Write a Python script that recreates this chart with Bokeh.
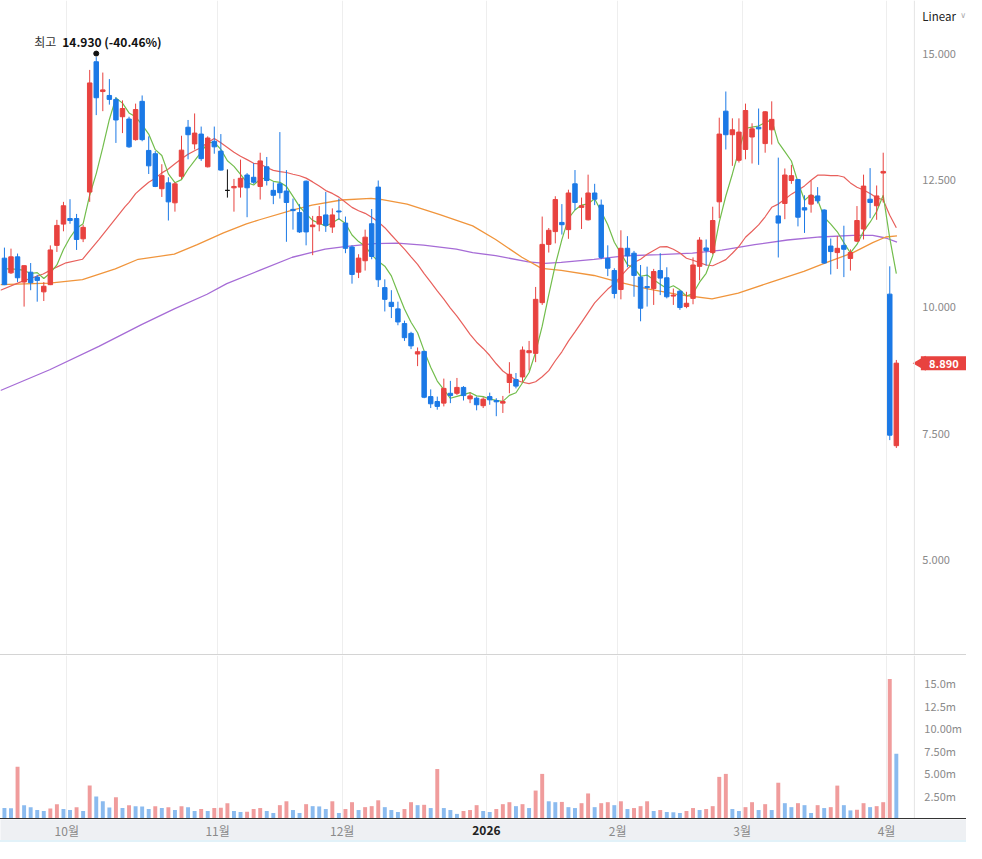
import math
from bokeh.plotting import figure
from bokeh.models import Range1d, FixedTicker, Label, Div, Grid, Span
from bokeh.layouts import column
from bokeh.core.properties import value
from bokeh.embed import file_html
from bokeh.resources import INLINE

# ---------------- data ----------------
open_ = [10.962, 10.672, 10.988, 10.491, 10.685, 10.588, 10.297, 10.439, 11.214, 11.634,
         11.744, 11.744, 11.344, 12.267, 14.838, 14.25, 14.173, 14.095, 13.753, 13.708,
         13.301, 14.057, 13.088, 13.023, 12.332, 12.448, 12.054, 12.577, 13.546, 13.217,
         13.411, 12.765, 13.269, 13.075, 12.30, 12.35, 12.364, 12.603, 12.558, 12.377,
         12.765, 12.30, 12.429, 12.287, 11.925, 11.861, 12.481, 11.583, 11.634, 11.815,
         11.576, 11.893, 11.654, 11.182, 10.685, 10.911, 11.641, 12.364, 10.381, 10.091,
         9.961, 9.671, 9.477, 9.07, 9.122, 8.23, 8.133, 8.101, 8.295, 8.295,
         8.411, 8.185, 8.198, 8.05, 8.23, 8.153, 8.101, 8.508, 8.566, 8.618,
         9.096, 9.083, 10.084, 11.234, 11.486, 11.667, 11.525, 12.429, 11.964, 11.719,
         12.248, 12.009, 10.956, 10.718, 10.343, 11.157, 11.06, 10.588, 10.401, 10.362,
         10.718, 10.575, 10.214, 10.31, 10.007, 10.168, 10.801, 11.163, 11.072, 12.074,
         13.863, 13.398, 12.894, 13.107, 13.353, 13.546, 13.223, 13.495, 11.796, 12.041,
         12.494, 12.513, 11.957, 12.028, 12.19, 11.912, 11.201, 11.072, 11.214, 10.956,
         11.298, 11.537, 12.125, 11.996, 12.642, 10.252, 7.261]
high = [11.17, 11.15, 11.053, 10.82, 10.866, 10.633, 10.49, 11.214, 11.718, 12.073,
        12.125, 11.835, 11.621, 14.677, 14.93, 14.625, 14.496, 14.141, 14.076, 13.753,
        14.012, 14.173, 13.366, 13.075, 12.816, 12.558, 12.461, 13.378, 13.689, 13.818,
        13.559, 13.366, 13.559, 13.411, 12.713, 12.526, 12.907, 12.64, 12.836, 13.043,
        12.959, 12.461, 13.45, 12.70, 12.138, 12.028, 12.494, 11.796, 11.99, 12.268,
        11.944, 12.138, 11.783, 11.215, 11.04, 11.525, 11.932, 12.494, 10.543, 10.33,
        10.103, 9.729, 9.509, 9.199, 9.135, 8.372, 8.23, 8.585, 8.54, 8.598,
        8.437, 8.308, 8.23, 8.217, 8.308, 8.198, 8.243, 8.909, 8.695, 9.219,
        9.328, 10.394, 11.783, 11.557, 12.184, 12.029, 12.313, 12.701, 12.158, 12.61,
        12.429, 12.119, 11.215, 10.763, 11.512, 11.396, 11.105, 10.827, 10.795, 10.75,
        11.06, 10.782, 10.362, 10.33, 10.298, 10.976, 11.376, 11.331, 11.977, 13.734,
        14.251, 13.721, 13.721, 14.012, 13.624, 13.915, 13.863, 14.057, 12.946, 12.732,
        12.803, 12.526, 12.203, 12.494, 12.364, 11.925, 11.35, 11.395, 11.602, 11.137,
        11.99, 12.61, 12.739, 12.396, 13.043, 10.801, 8.953]
low = [10.43, 10.65, 10.49, 10.006, 10.329, 10.103, 10.116, 10.43, 11.085, 11.492,
       11.641, 11.124, 11.279, 12.073, 13.785, 13.863, 13.992, 13.236, 13.43, 13.139,
       13.281, 13.269, 12.623, 12.364, 12.17, 11.705, 11.88, 12.526, 12.913, 13.107,
       12.881, 12.752, 13.023, 12.69, 12.157, 11.88, 12.157, 11.77, 12.43, 12.119,
       12.397, 12.028, 12.138, 11.285, 11.525, 11.46, 11.215, 11.021, 11.492, 11.48,
       11.46, 11.718, 11.06, 10.459, 10.569, 10.717, 10.94, 10.394, 9.91, 9.78,
       9.638, 9.328, 9.167, 8.831, 8.198, 8.004, 7.972, 8.036, 8.101, 8.262,
       8.153, 8.101, 7.959, 8.004, 8.069, 7.843, 7.907, 8.295, 8.392, 8.521,
       8.747, 8.909, 10.039, 11.073, 11.254, 11.428, 11.344, 11.912, 11.538, 11.706,
       12.009, 10.943, 10.608, 10.168, 10.149, 10.782, 10.2, 9.716, 10.007, 10.039,
       10.233, 10.168, 10.039, 9.942, 9.974, 10.052, 10.524, 10.814, 11.04, 11.751,
       13.107, 12.784, 12.849, 12.913, 12.83, 12.803, 13.043, 13.204, 10.975, 11.731,
       12.429, 11.589, 11.46, 11.86, 12.041, 10.846, 10.64, 10.749, 10.588, 10.717,
       11.279, 11.331, 11.751, 11.719, 12.061, 7.371, 7.216]
close = [10.439, 10.988, 10.575, 10.814, 10.478, 10.523, 10.407, 11.124, 11.608, 11.996,
         11.705, 11.331, 11.57, 14.42, 14.128, 14.283, 14.095, 13.689, 13.915, 13.159,
         13.895, 13.301, 12.784, 12.377, 12.59, 12.073, 12.429, 13.094, 13.398, 13.43,
         12.926, 13.333, 13.159, 12.70, 12.30, 12.377, 12.539, 12.351, 12.461, 12.881,
         12.494, 12.203, 12.255, 12.061, 11.90, 11.48, 11.48, 11.615, 11.783, 11.609,
         11.815, 11.874, 11.156, 10.64, 10.963, 11.376, 10.995, 10.536, 10.149, 10.007,
         9.703, 9.393, 9.231, 9.115, 8.217, 8.088, 8.036, 8.392, 8.25, 8.411,
         8.25, 8.243, 8.069, 8.179, 8.166, 8.127, 8.133, 8.67, 8.437, 9.148,
         9.135, 10.149, 11.234, 11.512, 12.119, 11.622, 12.248, 12.061, 11.996, 12.248,
         12.126, 10.976, 10.763, 10.265, 11.157, 11.008, 10.621, 9.974, 10.381, 10.698,
         10.569, 10.20, 10.233, 9.987, 10.072, 10.827, 11.318, 11.11, 11.705, 13.411,
         13.398, 13.495, 13.45, 13.876, 13.514, 13.514, 13.85, 13.701, 11.654, 12.603,
         12.59, 11.77, 11.912, 12.203, 12.093, 10.866, 11.092, 11.156, 11.137, 11.072,
         11.705, 12.384, 12.061, 12.19, 12.674, 7.468, 8.89]
volume_m = [1.16, 1.15, 5.74, 1.48, 1.26, 0.94, 0.83, 1.12, 1.59, 1.05,
            0.94, 1.26, 0.83, 3.65, 2.45, 1.91, 1.23, 2.35, 1.16, 1.48,
            1.37, 1.34, 1.05, 1.37, 1.16, 1.26, 0.94, 1.37, 1.26, 0.83,
            1.05, 0.83, 1.16, 1.19, 1.70, 0.83, 0.72, 0.76, 1.05, 1.16,
            0.83, 0.61, 1.48, 1.91, 0.94, 0.61, 1.59, 1.37, 1.34, 1.05,
            1.91, 0.61, 1.05, 1.81, 0.94, 1.26, 1.37, 2.02, 1.26, 0.94,
            0.72, 1.05, 1.81, 1.48, 1.52, 1.16, 5.49, 1.16, 0.94, 0.51,
            0.83, 0.94, 1.48, 0.83, 0.72, 1.05, 1.59, 1.81, 1.37, 1.59,
            1.16, 3.10, 4.95, 1.91, 1.81, 1.84, 1.26, 1.16, 1.70, 2.78,
            1.26, 1.70, 1.81, 1.48, 1.91, 1.05, 1.16, 1.37, 1.91, 0.83,
            0.94, 0.72, 0.69, 0.61, 0.83, 1.16, 0.94, 1.05, 1.37, 4.62,
            4.95, 1.05, 0.83, 1.26, 1.81, 0.94, 1.59, 0.94, 3.97, 1.70,
            1.26, 1.70, 1.48, 0.61, 1.48, 1.16, 1.26, 3.65, 1.48, 0.90,
            0.97, 1.70, 1.26, 1.37, 1.81, 15.49, 7.18]

# moving-average lines: first points, rest computed from closes
ma5_head_x = [0, 1, 2, 3]
ma5_head = [10.75, 10.75, 10.74, 10.72]
ma20_head_x = [-0.6, 2.4, 5.9, 7.4, 9.4, 11.9, 14.4, 18.4]
ma20_head = [10.33, 10.49, 10.65, 10.75, 10.87, 10.94, 11.33, 11.98]
ma60_x = [-0.6, 6.9, 11.9, 16.9, 20.4, 25.9, 29.4, 33.4, 36.9, 38.9, 43.9, 46.9, 51.4, 55.9,
          57.4, 61.4, 66.4, 71.4, 74.9, 78.9, 81.9, 84.9, 89.9, 93.4, 97.9, 102.4, 107.9,
          111.9, 116.9, 121.9, 125.4, 129.4, 132.4, 134.4, 136.1]
ma60 = [10.44, 10.47, 10.54, 10.75, 10.94, 11.04, 11.23, 11.46, 11.64, 11.72, 11.91, 12.01,
        12.11, 12.14, 12.12, 12.03, 11.82, 11.60, 11.33, 10.98, 10.76, 10.72, 10.62, 10.50,
        10.36, 10.25, 10.16, 10.27, 10.49, 10.70, 10.88, 11.07, 11.27, 11.38, 11.40]
ma120_x = [-0.6, 6.9, 14.4, 20.9, 25.9, 30.9, 33.9, 38.9, 43.9, 48.9, 51.9, 56.4, 59.9, 63.9,
           68.9, 71.4, 74.9, 79.9, 82.4, 84.9, 89.9, 94.9, 99.9, 104.9, 109.4, 114.4, 119.4,
           124.4, 129.4, 132.4, 134.4, 136.1]
ma120 = [8.35, 8.76, 9.22, 9.65, 9.96, 10.25, 10.46, 10.72, 10.98, 11.14, 11.19, 11.25, 11.26,
         11.22, 11.14, 11.07, 11.01, 10.89, 10.86, 10.88, 10.94, 11.01, 11.03, 11.06, 11.12,
         11.23, 11.32, 11.38, 11.41, 11.41, 11.36, 11.28]

month_ticks = [9.5, 32.5, 51.5, 73.5, 93.5, 112.5, 134.5]
month_labels = ["10월", "11월", "12월", "2026", "2월", "3월", "4월"]
price_ticks = [5.0, 7.5, 10.0, 12.5, 15.0]
price_tick_labels = ["5.000", "7.500", "10.000", "12.500", "15.000"]
vol_ticks = [2.5, 5.0, 7.5, 10.0, 12.5, 15.0]
vol_tick_labels = ["2.50m", "5.00m", "7.50m", "10.00m", "12.5m", "15.0m"]

# ---------------- layout / styling ----------------
RED, BLUE = "#e8423f", "#1b79e6"
VRED, VBLUE = "#f09c9c", "#8bbbef"
FONT = "Noto Sans CJK KR"
W = 966                 # full frame width (plot area + price scale column)
X_MIN, X_END = -0.6, 138.75          # visible candle area
X_MAX = X_MIN + (X_END - X_MIN) * 982 / 929   # include the scale column
PX = (X_MAX - X_MIN) / W             # data units per pixel

N = len(close)
xs = list(range(N))


def sma(vals, n):
    return [sum(vals[i - n + 1:i + 1]) / n for i in range(n - 1, len(vals))]


ma5_x = ma5_head_x + list(range(4, N))
ma5_y = ma5_head + sma(close, 5)
ma20_x = ma20_head_x + list(range(19, N))
ma20_y = ma20_head + sma(close, 20)

ccol = [RED if c > o else (BLUE if c < o else "#111111") for o, c in zip(open_, close)]
vcol = [VBLUE] + [VRED if volume_m[i] > volume_m[i - 1] else VBLUE for i in range(1, N)]

x_range = Range1d(X_MIN, X_MAX)

common = dict(output_backend="svg", toolbar_location=None, frame_width=W,
              min_border_left=0, min_border_right=0, min_border_top=0, min_border_bottom=0,
              x_range=x_range, x_axis_location=None, y_axis_location=None)


def style(fig):
    fig.grid.visible = False
    fig.add_layout(Grid(dimension=0, ticker=FixedTicker(ticks=month_ticks), grid_line_color="#eeeeee"))
    fig.outline_line_color = None


# ---------------- price panel ----------------
p = figure(frame_height=654, y_range=Range1d(3.14, 16.047), **common)
style(p)
p.add_layout(Span(location=X_END, dimension="height", line_color="#e4e4e4", line_width=1))

p.line(ma120_x, ma120, line_color="#a66cd6", line_width=1.3)
p.line(ma60_x, ma60, line_color="#f0953c", line_width=1.3)
p.line(ma20_x, ma20_y, line_color="#e8605c", line_width=1.2)
p.line(ma5_x, ma5_y, line_color="#72bd4c", line_width=1.2)

p.segment(xs, high, xs, low, line_color=ccol, line_width=1)
p.vbar(x=xs, width=0.68, top=[max(o, c) for o, c in zip(open_, close)],
       bottom=[min(o, c) for o, c in zip(open_, close)], fill_color=ccol, line_color=ccol, line_width=1)

imax = max(range(N), key=lambda i: high[i])
hmax = high[imax]
pct = (close[-1] / hmax - 1) * 100
p.scatter([imax], [hmax + 0.07], size=5, color="#111111")
p.text([imax], [hmax], text=["최고"], x_offset=-40, y_offset=-16, text_align="right",
       text_baseline="middle", text_font=value(FONT), text_font_size="12px", text_color="#333333")
p.text([imax], [hmax], text=[f"{hmax:.3f} ({pct:.2f}%)"], x_offset=-34, y_offset=-16,
       text_align="left", text_baseline="middle", text_font=value(FONT), text_font_size="12px",
       text_font_style="bold", text_color="#111111")

# price scale
p.text([X_END] * len(price_ticks), price_ticks, text=price_tick_labels, x_offset=8,
       text_align="left", text_baseline="middle", text_font=value(FONT), text_font_size="11px",
       text_color="#8a8a8a")
p.add_layout(Label(x=X_END, y=654 - 15, x_offset=8, x_units="data", y_units="screen", text="Linear",
                   text_font=FONT, text_font_size="11.5px", text_color="#222222", text_baseline="middle"))
p.add_layout(Label(x=X_END, y=654 - 15, x_offset=46, x_units="data", y_units="screen", text="∨",
                   text_font="DejaVu Sans", text_font_size="8px", text_color="#aaaaaa",
                   text_baseline="middle"))
# last price tag
p.scatter([X_END + 7 * PX], [close[-1]], marker="triangle", angle=math.pi / 2, size=15,
          fill_color=RED, line_color=None)
p.rect([X_END + 29.5 * PX], [close[-1]], width=46, height=14, width_units="screen",
       height_units="screen", fill_color=RED, line_color=None)
p.text([X_END + 29.5 * PX], [close[-1]], text=[f"{close[-1]:.3f}"], text_align="center",
       text_baseline="middle", text_font=value(FONT), text_font_size="11px", text_font_style="bold",
       text_color="white")

# ---------------- volume panel ----------------
v = figure(frame_height=163, y_range=Range1d(0, 18.09), **common)
style(v)
v.add_layout(Span(location=X_END, dimension="height", line_color="#e4e4e4", line_width=1))
v.vbar(x=xs, width=0.6, top=volume_m, bottom=0, fill_color=vcol, line_color=None)
v.text([X_END] * len(vol_ticks), vol_ticks, text=vol_tick_labels, x_offset=10,
       text_align="left", text_baseline="middle", text_font=value(FONT), text_font_size="11px",
       text_color="#8a8a8a")

# ---------------- date strip ----------------
s = figure(frame_height=21, y_range=Range1d(0, 1), **common)
s.grid.visible = False
s.outline_line_color = None
s.background_fill_color = "#eef0f3"
s.border_fill_color = "#eef0f3"
mon_idx = [i for i, t in enumerate(month_labels) if t.endswith("월")]
yr_idx = [i for i, t in enumerate(month_labels) if not t.endswith("월")]
s.text([month_ticks[i] for i in mon_idx], [0.5] * len(mon_idx), text=[month_labels[i] for i in mon_idx],
       text_align="center", text_baseline="middle", text_font=value(FONT), text_font_size="12px",
       text_color="#8a8a8a")
s.text([month_ticks[i] for i in yr_idx], [0.5] * len(yr_idx), text=[month_labels[i] for i in yr_idx],
       text_align="center", text_baseline="middle", text_font=value(FONT), text_font_size="12px",
       text_font_style="bold", text_color="#222222")

sep1 = Div(width=W, height=1, margin=0, styles={"background-color": "#d4d4d4"})
sep2 = Div(width=W, height=1, margin=0, styles={"background-color": "#333333"})
foot = Div(width=W, height=2, margin=0, styles={"background-color": "#e2f2f9"})

layout = column(p, sep1, v, sep2, s, foot, spacing=0)
open("out.html", "w").write(file_html(layout, INLINE))
